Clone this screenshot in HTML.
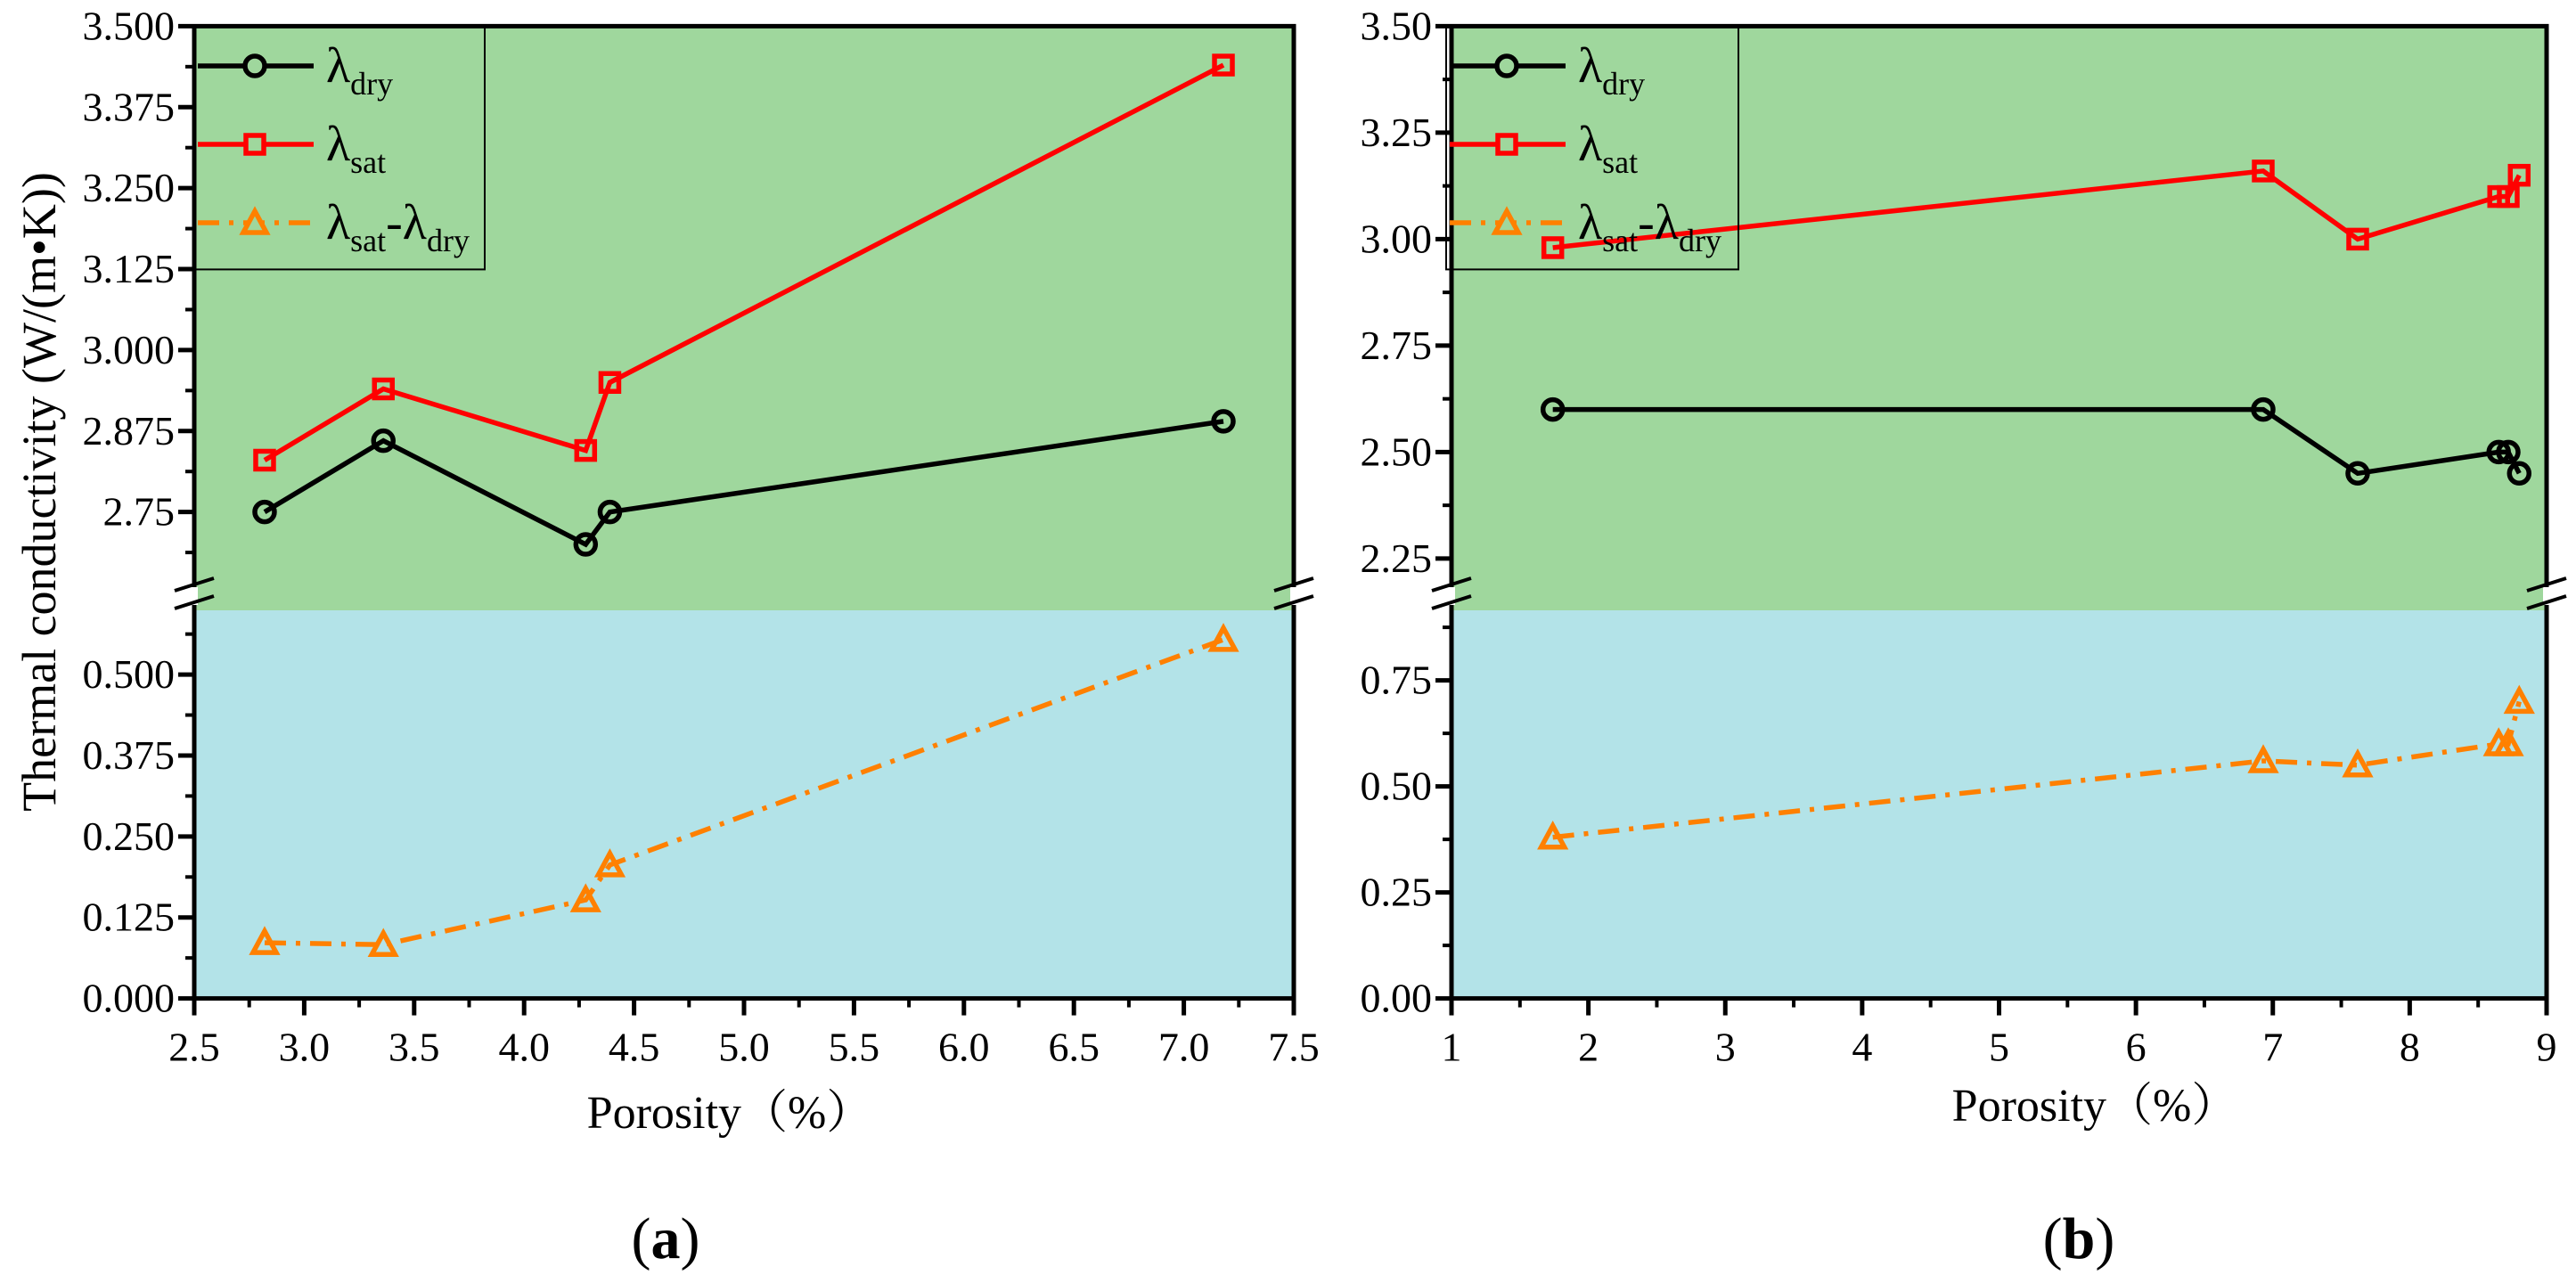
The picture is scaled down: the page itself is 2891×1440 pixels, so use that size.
<!DOCTYPE html>
<html><head><meta charset="utf-8"><style>
html,body{margin:0;padding:0;background:#fff;}
svg{display:block;}
text,tspan{font-family:"Liberation Serif","Times New Roman","Noto Serif CJK SC",serif !important;}
</style></head><body>
<svg id="fig" width="2891" height="1440" viewBox="0 0 2891 1440" xmlns="http://www.w3.org/2000/svg" font-family="Liberation Serif, serif"></svg>
<script>
// ---- Panel (a) data ----
const aPorosity = [2.82, 3.36, 4.28, 4.39, 7.18];
const aDry = [2.75, 2.86, 2.70, 2.75, 2.89];
const aSat = [2.83, 2.94, 2.845, 2.95, 3.44];
const aDiff = [0.086, 0.083, 0.152, 0.206, 0.554];
const aXTicks = ["2.5","3.0","3.5","4.0","4.5","5.0","5.5","6.0","6.5","7.0","7.5"];
const aUpperTicks = ["2.75","2.875","3.000","3.125","3.250","3.375","3.500"];
const aLowerTicks = ["0.000","0.125","0.250","0.375","0.500"];
// ---- Panel (b) data ----
const bPorosity = [1.74, 6.93, 7.62, 8.65, 8.72, 8.80];
const bDry = [2.60, 2.60, 2.45, 2.50, 2.50, 2.45];
const bSat = [2.98, 3.16, 3.00, 3.10, 3.10, 3.15];
const bDiff = [0.38, 0.56, 0.55, 0.60, 0.60, 0.70];
const bXTicks = ["1","2","3","4","5","6","7","8","9"];
const bUpperTicks = ["2.25","2.50","2.75","3.00","3.25","3.50"];
const bLowerTicks = ["0.00","0.25","0.50","0.75"];

const NS = "http://www.w3.org/2000/svg";
const svg = document.getElementById('fig');
const FF = '"Liberation Serif", serif';
function mk(tag, attrs, parent){
  const e = document.createElementNS(NS, tag);
  for (const k in attrs) e.setAttribute(k, attrs[k]);
  if (tag==='text') e.setAttribute('style','font-family:'+FF);
  (parent||svg).appendChild(e);
  return e;
}
const TOP=29.4, BOT=1120.6, BRK=685;
const LW=5.5;

function panel(cfg){
  const g = mk('g',{});
  
  
  const L=cfg.left, R=cfg.right;
  const xs = v => L + (v - cfg.xmin)/(cfg.xmax-cfg.xmin)*(R-L);
  const yU = v => TOP + (cfg.uMax - v)*cfg.uScale;
  const yL = v => BOT - v*cfg.lScale;
  const bgU = mk('rect',{x:L,y:TOP,width:R-L,height:BRK-TOP,fill:'#9fd79d'},g);
  
  
  const bgL = mk('rect',{x:L,y:BRK,width:R-L,height:BOT-BRK,fill:'#b3e3e8'},g);
  
  
  const ax = mk('path',{d:`M${L},${TOP} L${L},${BOT} L${R},${BOT} L${R},${TOP} L${L},${TOP}`,fill:'none',stroke:'#000','stroke-width':5},g);
  
  
  [L,R].forEach(x=>{
    const bk = mk('g',{},g);
    
    
    mk('rect',{x:x-4,y:BRK-26,width:8,height:20,fill:'#fff'},bk);
    mk('line',{x1:x-22,y1:BRK-22,x2:x+22,y2:BRK-36,stroke:'#000','stroke-width':4},bk);
    mk('line',{x1:x-22,y1:BRK-2,x2:x+22,y2:BRK-16,stroke:'#000','stroke-width':4},bk);
  });
  const xstep = (cfg.xmax-cfg.xmin)/(cfg.xTicks.length-1);
  cfg.xTicks.forEach((t,i)=>{
    const v = cfg.xmin + i*xstep, x = xs(v);
    mk('line',{x1:x,y1:BOT,x2:x,y2:BOT+19,stroke:'#000','stroke-width':5},g);
    if(i<cfg.xTicks.length-1){const xm=xs(v+xstep/2);mk('line',{x1:xm,y1:BOT,x2:xm,y2:BOT+10,stroke:'#000','stroke-width':4},g);}
    const tx = mk('text',{x:x,y:BOT+70,'font-size':46,'text-anchor':'middle'},g);
    tx.textContent=t;
    
    
  });
  cfg.uTicks.forEach(t=>{
    const v=parseFloat(t), y=yU(v);
    mk('line',{x1:L-18,y1:y,x2:L,y2:y,stroke:'#000','stroke-width':5},g);
    const h = v - cfg.uStep/2, yh=yU(h);
    if(yh<BRK-30) mk('line',{x1:L-10,y1:yh,x2:L,y2:yh,stroke:'#000','stroke-width':4},g);
    const tx = mk('text',{x:L-22,y:y+15,'font-size':46,'text-anchor':'end'},g);
    tx.textContent=t;
    
    
  });
  cfg.lTicks.forEach(t=>{
    const v=parseFloat(t), y=yL(v);
    mk('line',{x1:L-18,y1:y,x2:L,y2:y,stroke:'#000','stroke-width':5},g);
    const yh=yL(v+cfg.lStep/2);
    if(yh>BRK+5) mk('line',{x1:L-10,y1:yh,x2:L,y2:yh,stroke:'#000','stroke-width':4},g);
    const tx = mk('text',{x:L-22,y:y+15,'font-size':46,'text-anchor':'end'},g);
    tx.textContent=t;
    
    
  });
  function series(xv, yv, yf, color, dash, marker, name){
    const pts = xv.map((x,i)=>[xs(x), yf(yv[i])]);
    const sg = mk('g',{},g);
    
    
    mk('polyline',{points:pts.map(p=>p.join(',')).join(' '),fill:'none',stroke:color,'stroke-width':LW,'stroke-dasharray':dash||'none'},sg);
    pts.forEach(p=>{
      let m;
      if(marker==='circle') m=mk('circle',{cx:p[0],cy:p[1],r:11,fill:'none',stroke:color,'stroke-width':LW},sg);
      else if(marker==='square') m=mk('rect',{x:p[0]-10,y:p[1]-10,width:20,height:20,fill:'none',stroke:color,'stroke-width':LW},sg);
      else m=mk('polygon',{points:`${p[0]},${p[1]-13} ${p[0]-13},${p[1]+11} ${p[0]+13},${p[1]+11}`,fill:'none',stroke:color,'stroke-width':LW},sg);
      
      
    });
  }
  series(cfg.px, cfg.dry, yU, '#000', null, 'circle', 'series-dry');
  series(cfg.px, cfg.sat, yU, '#ff0000', null, 'square', 'series-sat');
  series(cfg.px, cfg.diff, yL, '#ff8000', '24 11 5 11', 'triangle', 'series-diff');
  const lg = mk('g',{},g);
  
  
  const lx=cfg.legX;
  mk('rect',{x:lx,y:TOP,width:cfg.legW,height:273,fill:'none',stroke:'#000','stroke-width':2},lg);
  const ent=[['#000',null,'circle','dry',null],['#ff0000',null,'square','sat',null],['#ff8000','24 11 5 11','triangle','sat','dry']];
  ent.forEach((e,i)=>{
    const y=74+i*88;
    const eg = mk('g',{},lg);
    
    
    mk('line',{x1:lx+4,y1:y,x2:lx+134,y2:y,stroke:e[0],'stroke-width':LW,'stroke-dasharray':e[1]||'none'},eg);
    const mx=lx+68;
    if(e[2]==='circle') mk('circle',{cx:mx,cy:y,r:11,fill:'#9fd79d',stroke:e[0],'stroke-width':LW},eg);
    else if(e[2]==='square') mk('rect',{x:mx-10,y:y-10,width:20,height:20,fill:'#9fd79d',stroke:e[0],'stroke-width':LW},eg);
    else mk('polygon',{points:`${mx},${y-13} ${mx-13},${y+11} ${mx+13},${y+11}`,fill:'#9fd79d',stroke:e[0],'stroke-width':LW},eg);
    const t=mk('text',{x:lx+148,y:y+18,'font-size':56},eg);
    let s='<tspan>λ</tspan><tspan font-size="36" dy="14">'+e[3]+'</tspan>';
    if(e[4]) s+='<tspan dy="-14">-λ</tspan><tspan font-size="36" dy="14">'+e[4]+'</tspan>';
    t.innerHTML=s;
  });
  const xt=mk('text',{x:cfg.xtX,y:cfg.xtY,'font-size':52,'text-anchor':'middle'},g);
  xt.textContent='Porosity（%）';
  
  
  const pl=mk('text',{x:cfg.plX,y:1412,'font-size':66,'text-anchor':'middle','font-weight':'bold'},g);
  pl.innerHTML='<tspan font-weight="normal">(</tspan>'+cfg.label+'<tspan font-weight="normal">)</tspan>';
  
  
}
panel({name:'panel-a',left:218,right:1452,xmin:2.5,xmax:7.5,uMax:3.5,uScale:727,lScale:727,uStep:0.125,lStep:0.125,
  xTicks:aXTicks,uTicks:aUpperTicks,lTicks:aLowerTicks,px:aPorosity,dry:aDry,sat:aSat,diff:aDiff,
  legX:218,legW:326,xtX:819,xtY:1266,plX:747,label:'a'});
panel({name:'panel-b',left:1629,right:2858,xmin:1,xmax:9,uMax:3.5,uScale:478,lScale:476,uStep:0.25,lStep:0.25,
  xTicks:bXTicks,uTicks:bUpperTicks,lTicks:bLowerTicks,px:bPorosity,dry:bDry,sat:bSat,diff:bDiff,
  legX:1623,legW:328,xtX:2351,xtY:1258,plX:2333,label:'b'});
const yt=mk('text',{x:0,y:0,'font-size':54,'text-anchor':'middle',transform:'translate(62,552) rotate(-90)'});
yt.textContent='Thermal conductivity (W/(m•K))';


</script>
</body></html>
